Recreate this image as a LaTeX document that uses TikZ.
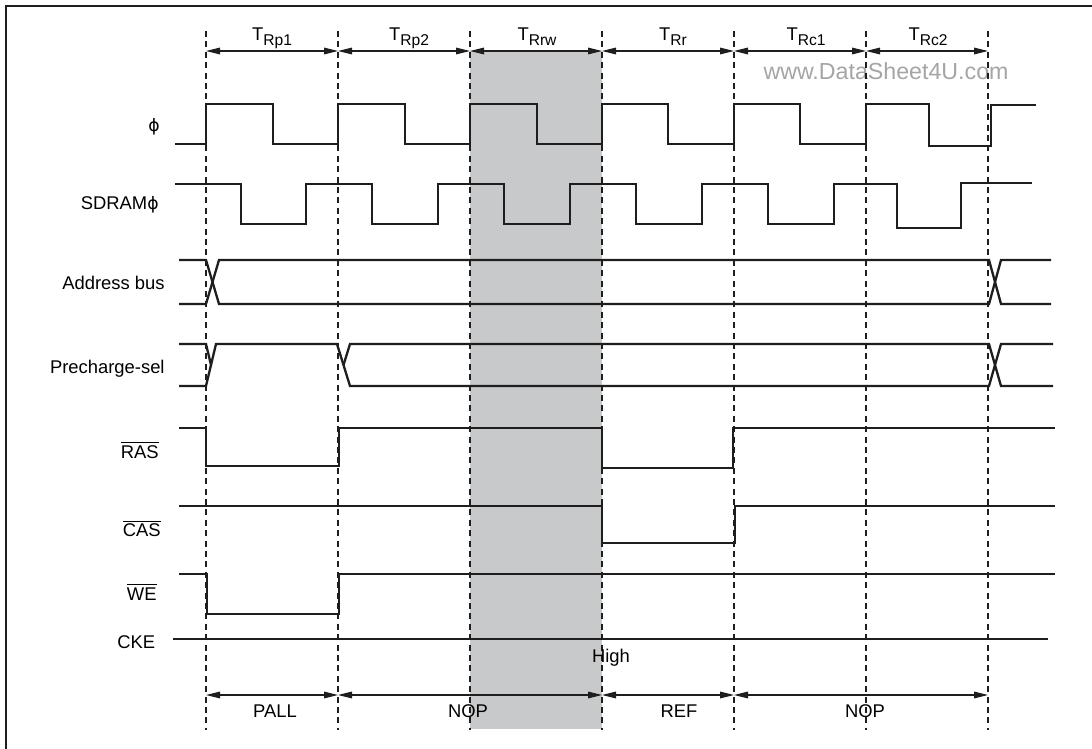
\documentclass[tikz,border=0pt]{standalone}
\usepackage{fontspec}
\setmainfont{Liberation Sans}
\newfontfamily\phifont{DejaVu Sans}
\usetikzlibrary{arrows.meta}
\definecolor{cyclegray}{RGB}{200,201,203}
\definecolor{wmark}{RGB}{165,165,165}
\definecolor{ink}{RGB}{30,30,30}
\tikzset{
  wave/.style={draw=ink,line width=1.15pt,line join=miter},
  guide/.style={draw=ink,line width=0.55pt,dash pattern=on 3pt off 2.2pt},
  dimarrow/.style={draw=ink,line width=0.55pt,{Triangle[length=7pt,width=3.3pt]}-{Triangle[length=7pt,width=3.3pt]}},
  siglabel/.style={anchor=base east,inner sep=0pt,font=\fontsize{9.2}{11}\selectfont},
  toplabel/.style={anchor=base,inner sep=0pt,font=\fontsize{9.2}{11}\selectfont},
  phaselabel/.style={anchor=base,inner sep=0pt,font=\fontsize{9.2}{11}\selectfont}
}
\newcommand{\Tsub}[1]{T\raisebox{-2.2pt}{\fontsize{7.8}{9}\selectfont #1}}
\newcommand{\phisym}{{\phifont\fontsize{8.6}{10}\selectfont ϕ}}
\begin{document}
\begin{tikzpicture}[x=0.5pt,y=-0.5pt]
\useasboundingbox (0,0) rectangle (1092,749);
\fill[white] (0,0) rectangle (1092,749);
% frame
\draw[ink,line width=1.3pt] (6,749) -- (6,6) -- (1092,6);
% highlighted cycle
\fill[cyclegray] (470,51) rectangle (602,729);
% watermark
\node[anchor=base,inner sep=0pt,text=wmark,font=\fontsize{11.6}{13}\selectfont] (wm) at (886,80) {www.DataSheet4U.com};
% guide coordinates
\foreach \n/\x in {1/206,2/338,3/470,4/602,5/734,6/866,7/988}{
  \coordinate (g\n) at (\x,31);
  \coordinate (h\n) at (\x,730);
  \coordinate (a\n) at (\x,51);
  \coordinate (b\n) at (\x,695);
}
\foreach \n in {1,...,7}{ \draw[guide] (g\n) -- (h\n); }
% top dimension arrows
\draw[dimarrow] (a1) -- (a2);
\draw[dimarrow] (a2) -- (a3);
\draw[dimarrow] (a3) -- (a4);
\draw[dimarrow] (a4) -- (a5);
\draw[dimarrow] (a5) -- (a6);
\draw[dimarrow] (a6) -- (a7);
\node[toplabel] (t1) at (272,41) {\Tsub{Rp1}};
\node[toplabel] (t2) at (409,41) {\Tsub{Rp2}};
\node[toplabel] (t3) at (537,41) {\Tsub{Rrw}};
\node[toplabel] (t4) at (673,41) {\Tsub{Rr}};
\node[toplabel] (t5) at (806,41) {\Tsub{Rc1}};
\node[toplabel] (t6) at (928,41) {\Tsub{Rc2}};
% bottom dimension arrows
\draw[dimarrow] (b1) -- (b2);
\draw[dimarrow] (b2) -- (b4);
\draw[dimarrow] (b4) -- (b5);
\draw[dimarrow] (b5) -- (b7);
\node[phaselabel] (p1) at (275,717) {PALL};
\node[phaselabel] (p2) at (468,717) {NOP};
\node[phaselabel] (p3) at (679,717) {REF};
\node[phaselabel] (p4) at (865,717) {NOP};
% signal labels
\node[siglabel] (lphi) at (160,132) {\phisym};
\node[siglabel] (lsd) at (159,209.6) {SDRAM\phisym};
\node[siglabel] (laddr) at (165,289.6) {Address bus};
\node[siglabel] (lpre) at (165,373.6) {Precharge-sel};
\node[siglabel] (lras) at (159,458.3) {\(\overline{\hbox{RAS}}\)};
\node[siglabel] (lcas) at (161,536.6) {\(\overline{\hbox{CAS}}\)};
\node[siglabel] (lwe) at (157,600) {\(\overline{\hbox{WE}}\)};
\node[siglabel] (lcke) at (155.5,648.3) {CKE};
% phi
\draw[wave] (175,144) -- (206,144) -- (206,104) -- (273,104) -- (273,144) -- (338,144) -- (338,104) -- (405,104) -- (405,144) -- (470,144) -- (470,104) -- (537,104) -- (537,144) -- (602,144) -- (602,104) -- (668,104) -- (668,144) -- (734,144) -- (734,104) -- (800,104) -- (800,144) -- (866,144) -- (866,104) -- (929,104) -- (929,146) -- (991,146) -- (991,105) -- (1036,105);
% SDRAM phi
\draw[wave] (175,184) -- (241,184) -- (241,224) -- (306,224) -- (306,184) -- (372,184) -- (372,224) -- (438,224) -- (438,184) -- (504,184) -- (504,224) -- (570,224) -- (570,184) -- (636,184) -- (636,224) -- (702,224) -- (702,184) -- (768,184) -- (768,224) -- (834,224) -- (834,184) -- (897,184) -- (897,228) -- (961,228) -- (961,183) -- (1032,183);
% address bus
\draw[wave] (179,260) -- (206,260) -- (219,304) -- (989,304) -- (1001,260) -- (1051,260);
\draw[wave] (179,304) -- (206,304) -- (219,260) -- (989,260) -- (1001,304) -- (1051,304);
% precharge-sel
\draw[wave] (179,344) -- (206,344) -- (211,365);
\draw[wave] (179,386) -- (206,386) -- (216,344) -- (337,344) -- (350,386) -- (989,386) -- (1001,344) -- (1053,344);
\draw[wave] (343.5,365) -- (350,344) -- (989,344) -- (1001,386) -- (1053,386);
% RAS
\draw[wave] (179,428) -- (206,428) -- (206,466) -- (339,466) -- (339,428) -- (602,428) -- (602,468) -- (733,468) -- (733,428) -- (1055,428);
% CAS
\draw[wave] (179,506) -- (602,506) -- (602,543) -- (735,543) -- (735,506) -- (1055,506);
% WE
\draw[wave] (179,574) -- (207,574) -- (207,614) -- (339,614) -- (339,574) -- (1055,574);
% CKE
\draw[wave] (173,639) -- (1048,639);
\node[anchor=base,inner sep=0pt,font=\fontsize{9.2}{11}\selectfont] (high) at (611,662.6) {High};
\end{tikzpicture}
\end{document}
